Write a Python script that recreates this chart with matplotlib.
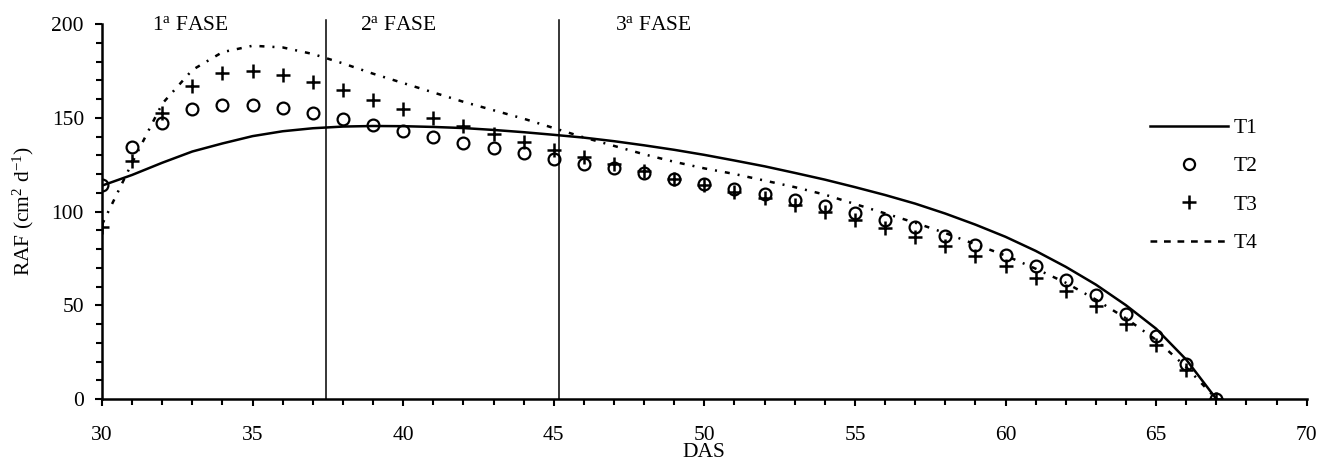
import numpy as np
import matplotlib
matplotlib.use("Agg")
import matplotlib.pyplot as plt
from matplotlib.ticker import MultipleLocator
from matplotlib.lines import Line2D

plt.rcParams['font.family'] = ['Liberation Serif', 'DejaVu Serif']
plt.rcParams['mathtext.fontset'] = 'custom'
plt.rcParams['mathtext.rm'] = 'Liberation Serif'
plt.rcParams['mathtext.it'] = 'Liberation Serif:italic'

days = np.arange(30, 68)

T1 = [113.8, 119.5, 126, 132, 136.3, 140.2, 142.8, 144.4, 145.3, 145.6,
      145.5, 145.1, 144.5, 143.5, 142.3, 140.9, 139.4, 137.5, 135.3, 132.9,
      130.2, 127.2, 124.1, 120.6, 117, 113, 108.8, 104.2, 98.9, 93,
      86.5, 79, 70.5, 61, 50, 37.5, 21, 0]
T2 = [114, 134.3, 147.4, 154.8, 156.9, 156.8, 155.2, 152.3, 149.3, 146.3,
      143, 140, 136.8, 133.9, 131, 128.2, 125.5, 123.2, 120.3, 117.6,
      114.6, 112, 109.3, 106, 102.8, 99.4, 95.5, 91.5, 87, 82.2,
      76.6, 70.8, 63.5, 55.3, 45.5, 33.6, 18.6, 0]
T3 = [92, 126.8, 152.3, 167.1, 173.7, 175, 172.8, 169.2, 164.6, 159.6,
      154.8, 150, 145.4, 141.2, 137, 133, 129, 125.3, 121.4, 117.6,
      114, 110.5, 107, 103.3, 99.6, 95.6, 91.3, 86.6, 81.7, 76.5,
      70.8, 64.6, 57.6, 49.4, 39.8, 28.7, 15.5, 0]
T4 = [93, 126, 157.5, 175.5, 185, 188.4, 187.5, 184, 179, 173.5,
      168.5, 163.5, 158.5, 154, 149.5, 144.5, 139.5, 135, 130.5, 126.5,
      123, 120, 116.5, 113, 109, 104, 99, 94, 88.5, 82.5,
      76.5, 69.5, 62, 53, 43, 31.5, 17, 0]

phase_bounds = [37.45, 45.18]
phase_labels = ["1$^{\\mathrm{a}}$ FASE", "2$^{\\mathrm{a}}$ FASE", "3$^{\\mathrm{a}}$ FASE"]
phase_label_x = [31.66, 38.56, 47.03]

W, H = 1319, 469
fig = plt.figure(figsize=(W / 100, H / 100), dpi=100)
ax = fig.add_axes([102 / W, (H - 399) / H, (1306.7 - 102) / W, 375 / H])

fs = 15.5
lw_line = 1.8
plot_dash = (0, (2.0, 3.2, 0.8, 3.2))
legend_dash = (0, (2.7, 2.7))

ax.plot(days, T1, color='black', lw=lw_line, label='T1', zorder=3)
ax.plot(days, T2, linestyle='none', marker='o', ms=8.5, mfc='none', mec='black',
        mew=1.6, label='T2', zorder=4)
ax.plot(days, T3, linestyle='none', marker='+', ms=10, mec='black',
        mew=1.8, label='T3', zorder=4)
ax.plot(days, T4, color='black', lw=lw_line, linestyle=plot_dash, label='T4', zorder=3)

for xb in phase_bounds:
    ax.plot([xb, xb], [0, 202], color='black', lw=1.1, clip_on=False, zorder=2)

for xl, txt in zip(phase_label_x, phase_labels):
    ax.text(xl, 196.8, txt, fontsize=fs, ha='left', va='baseline')

ax.set_xlim(30, 70)
ax.set_ylim(0, 200)
ax.xaxis.set_major_locator(MultipleLocator(5))
ax.xaxis.set_minor_locator(MultipleLocator(1))
ax.yaxis.set_major_locator(MultipleLocator(50))
ax.yaxis.set_minor_locator(MultipleLocator(10))

for s in ['top', 'right']:
    ax.spines[s].set_visible(False)
for s in ['left', 'bottom']:
    ax.spines[s].set_linewidth(1.8)

ax.tick_params(axis='both', which='major', direction='out', length=5, width=1.5,
               labelsize=fs)
ax.tick_params(axis='both', which='minor', direction='out', length=4, width=1.5)
ax.tick_params(axis='x', which='major', pad=14.5)
ax.tick_params(axis='y', which='major', pad=8)

ax.set_xlabel('DAS', fontsize=fs, labelpad=-1.5)
ax.set_ylabel('RAF (cm$^{2}$ d$^{-1}$)', fontsize=fs, labelpad=11)

handles = [
    Line2D([], [], color='black', lw=lw_line),
    Line2D([], [], linestyle='none', marker='o', ms=8, mfc='none', mec='black', mew=1.6),
    Line2D([], [], linestyle='none', marker='+', ms=10, mec='black', mew=1.8),
    Line2D([], [], color='black', lw=lw_line, linestyle=legend_dash),
]
ax.legend(handles, ['T1', 'T2', 'T3', 'T4'], loc='center left',
          bbox_to_anchor=(0.870, 0.569), frameon=False, fontsize=fs,
          handlelength=3.6, handletextpad=0.3, labelspacing=0.85,
          borderpad=0, borderaxespad=0, numpoints=1)

fig.savefig('out.png', dpi=100)
